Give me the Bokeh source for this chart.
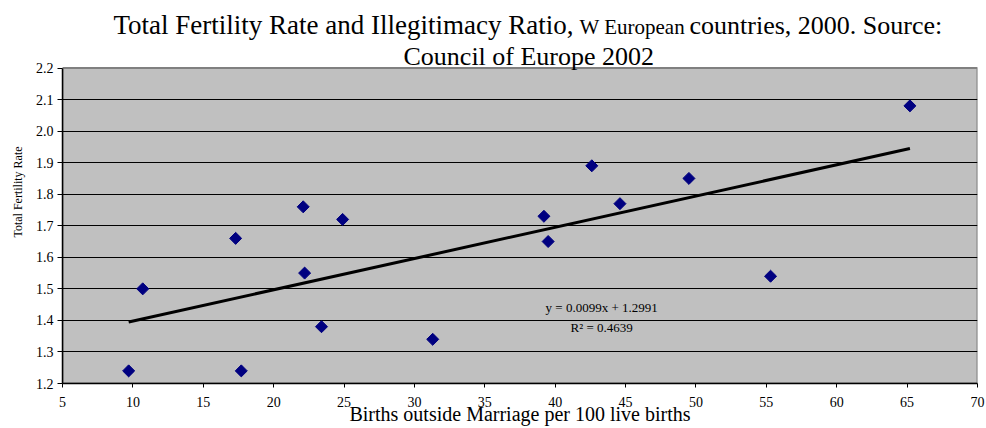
import math
from bokeh.plotting import figure
from bokeh.models import Label, FixedTicker, NumeralTickFormatter, ColumnDataSource, Range1d
from bokeh.embed import file_html
from bokeh.resources import INLINE

# ---- data ----
births_outside_marriage = [9.7, 10.7, 17.3, 17.7, 22.1, 22.2, 23.4, 24.9, 31.3,
                           39.2, 39.5, 42.6, 44.6, 49.5, 55.3, 65.2]
total_fertility_rate = [1.24, 1.50, 1.66, 1.24, 1.76, 1.55, 1.38, 1.72, 1.34,
                        1.73, 1.65, 1.89, 1.77, 1.85, 1.54, 2.08]
trend_slope = 0.0099
trend_intercept = 1.2991
r_squared = 0.4639
x_ticks = [5, 10, 15, 20, 25, 30, 35, 40, 45, 50, 55, 60, 65, 70]
y_ticks = [1.2, 1.3, 1.4, 1.5, 1.6, 1.7, 1.8, 1.9, 2.0, 2.1, 2.2]

title_part1 = "Total Fertility Rate and Illegitimacy Ratio,"
title_part2 = "W European"
title_part3 = "countries, 2000. Source:"
title_line2 = "Council of Europe 2002"
x_title = "Births outside Marriage per 100 live births"
y_title = "Total Fertility Rate"

FONT = "Liberation Serif"
LEFT, RIGHT, BOTTOM = 62, 9, 45
W, H = 986, 428
FRAME_H = H - BOTTOM            # frame spans from the top of the canvas (title lives inside it)
PX_PER_UNIT = 315.5             # vertical pixels per 1.0 of fertility rate
y_lo, y_hi = y_ticks[0], y_ticks[-1]
x_lo, x_hi = x_ticks[0], x_ticks[-1]

p = figure(width=W, height=H, output_backend="svg", toolbar_location=None,
           x_range=Range1d(x_lo, x_hi),
           y_range=Range1d(y_lo, y_lo + FRAME_H / PX_PER_UNIT),
           min_border_left=LEFT, min_border_right=RIGHT, min_border_top=0,
           min_border_bottom=BOTTOM, margin=0)
p.background_fill_color = "white"
p.border_fill_color = "white"
p.outline_line_color = None

# grey plot area with its border
p.quad(left=[x_lo], right=[x_hi], bottom=[y_lo], top=[y_hi],
       fill_color="#C0C0C0", line_color="#808080", line_width=2, level="image")

# axes
p.xaxis.ticker = FixedTicker(ticks=x_ticks)
p.yaxis.ticker = FixedTicker(ticks=y_ticks)
p.yaxis.formatter = NumeralTickFormatter(format="0.0")
p.yaxis.bounds = (y_lo, y_hi)
for ax in (p.xaxis[0], p.yaxis[0]):
    ax.axis_line_color = "black"
    ax.axis_line_width = 1.5
    ax.major_tick_line_color = "black"
    ax.major_tick_in = 0
    ax.minor_tick_line_color = None
    ax.major_label_text_font = FONT
    ax.major_label_text_font_size = "14px"
    ax.major_label_text_color = "black"
    ax.axis_label_text_font = FONT
    ax.axis_label_text_font_style = "normal"
    ax.axis_label_text_color = "black"
p.xaxis.major_tick_out = 4
p.xaxis.major_label_standoff = 9
p.xaxis.axis_label = x_title
p.xaxis.axis_label_text_font_size = "20px"
p.xaxis.axis_label_standoff = -7
p.yaxis.major_tick_out = 5
p.yaxis.major_label_standoff = 4
p.yaxis.axis_label = y_title
p.yaxis.axis_label_text_font_size = "12px"
p.yaxis.axis_label_standoff = 8

p.xgrid.grid_line_color = None
p.ygrid.ticker = FixedTicker(ticks=y_ticks[1:-1])
p.ygrid.grid_line_color = "black"
p.ygrid.grid_line_width = 1

# trend line (from the fitted equation shown on the chart)
tx = [min(births_outside_marriage), max(births_outside_marriage)]
ty = [trend_slope * v + trend_intercept for v in tx]
p.line(tx, ty, line_color="black", line_width=3)

# points
src = ColumnDataSource(dict(x=births_outside_marriage, y=total_fertility_rate))
p.scatter("x", "y", source=src, marker="square", size=8.5, angle=math.pi / 4,
          fill_color="#000080", line_color="#000080")

# equation labels
p.add_layout(Label(x=43.3, y=1.440, text=f"y = {trend_slope}x + {trend_intercept}",
                   text_font=FONT, text_font_size="13px", text_align="center",
                   text_baseline="alphabetic", text_color="black"))
p.add_layout(Label(x=43.3, y=1.376, text=f"R\u00b2 = {r_squared}",
                   text_font=FONT, text_font_size="13px", text_align="center",
                   text_baseline="alphabetic", text_color="black"))

# title: screen units relative to the frame (x from its left, y up from its bottom)
def title_label(px, py, text, size):
    return Label(x=px - LEFT, y=FRAME_H - py, x_units="screen", y_units="screen", text=text,
                 text_font=FONT, text_font_size=size, text_align="left",
                 text_baseline="alphabetic", text_color="black")

p.add_layout(title_label(113, 24, title_part1, "27px"))
p.add_layout(title_label(579, 26, title_part2, "21px"))
p.add_layout(title_label(689, 24.5, title_part3, "26px"))
p.add_layout(title_label(403, 55.5, title_line2, "26px"))

open("out.html", "w").write(file_html(p, INLINE))
